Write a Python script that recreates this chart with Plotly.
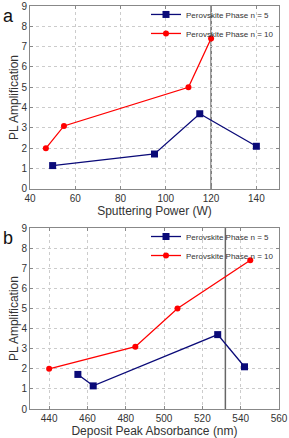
import plotly.graph_objects as go

# Panel a: Sputtering Power (W)
power_n5 = [50, 95, 115, 140]
amp_power_n5 = [1.15, 1.72, 3.7, 2.1]
power_n10 = [47, 55, 110, 120]
amp_power_n10 = [2.0, 3.1, 5.0, 7.4]
power_marker_line = 120

# Panel b: Deposit Peak Absorbance (nm)
abs_n5 = [455, 463, 528, 542]
amp_abs_n5 = [1.72, 1.15, 3.7, 2.1]
abs_n10 = [440, 485, 507, 545]
amp_abs_n10 = [2.0, 3.1, 5.0, 7.4]
abs_marker_line = 532

name_n5 = "Perovskite Phase n = 5"
name_n10 = "Perovskite Phase n = 10"

BLUE = "#0a0a78"
RED = "#ff0000"
FONT = "Liberation Sans"

fig = go.Figure()

def add_series(x, y, name, color, symbol, size, xa, ya, legend):
    fig.add_trace(go.Scatter(
        x=x, y=y, mode="lines+markers", name=name,
        line=dict(color=color, width=1.3),
        marker=dict(color=color, symbol=symbol, size=size),
        xaxis=xa, yaxis=ya, legend=legend,
    ))

add_series(power_n5, amp_power_n5, name_n5, BLUE, "square", 7, "x", "y", "legend")
add_series(power_n10, amp_power_n10, name_n10, RED, "circle", 6, "x", "y", "legend")
add_series(abs_n5, amp_abs_n5, name_n5, BLUE, "square", 7, "x2", "y2", "legend2")
add_series(abs_n10, amp_abs_n10, name_n10, RED, "circle", 6, "x2", "y2", "legend2")

axis_common = dict(
    showline=True, linecolor="#888888", linewidth=1, mirror="ticks",
    ticks="inside", ticklen=3, tickcolor="#888888",
    showgrid=True, gridcolor="#cccccc", griddash="dot", gridwidth=1,
    zeroline=False, automargin=False,
    tickfont=dict(size=10, color="#333333", family=FONT),
)

top_domain = [0.546, 1.0]
bot_domain = [0.0, 0.449]

fig.update_layout(
    width=289, height=438,
    margin=dict(l=30, r=10, t=6, b=29, autoexpand=False),
    paper_bgcolor="white", plot_bgcolor="white",
    font=dict(family=FONT, color="#333333"),
    showlegend=True,
    xaxis=dict(axis_common, range=[40, 150], dtick=20, anchor="y",
               title=dict(text="Sputtering Power (W)", font=dict(size=12), standoff=0)),
    yaxis=dict(axis_common, range=[0, 9], dtick=1, domain=top_domain, anchor="x",
               title=dict(text="PL Amplification", font=dict(size=12), standoff=0)),
    xaxis2=dict(axis_common, range=[430, 560], dtick=20, anchor="y2",
                title=dict(text="Deposit Peak Absorbance (nm)", font=dict(size=12), standoff=0)),
    yaxis2=dict(axis_common, range=[0, 9], dtick=1, domain=bot_domain, anchor="x2",
                title=dict(text="PL Amplification", font=dict(size=12), standoff=0)),
    legend=dict(x=1.0, y=1.015, xanchor="right", yanchor="top",
                bgcolor="rgba(255,255,255,0)", font=dict(size=8, color="#333333"),
                tracegroupgap=0, itemwidth=30),
    legend2=dict(x=1.0, y=0.464, xanchor="right", yanchor="top",
                 bgcolor="rgba(255,255,255,0)", font=dict(size=8, color="#333333"),
                 tracegroupgap=0, itemwidth=30),
)

fig.add_shape(type="line", xref="x", yref="y", x0=power_marker_line, x1=power_marker_line,
              y0=0, y1=9, line=dict(color="#666666", width=1.5), layer="below")
fig.add_shape(type="line", xref="x2", yref="y2", x0=abs_marker_line, x1=abs_marker_line,
              y0=0, y1=9, line=dict(color="#666666", width=1.5), layer="below")

fig.add_annotation(text="a", xref="paper", yref="paper", x=-0.115, y=0.975,
                   xanchor="left", yanchor="middle", showarrow=False,
                   font=dict(size=18, color="#111111", family=FONT))
fig.add_annotation(text="b", xref="paper", yref="paper", x=-0.115, y=0.425,
                   xanchor="left", yanchor="middle", showarrow=False,
                   font=dict(size=18, color="#111111", family=FONT))

fig.write_html(
    "out.html",
    config={"displayModeBar": False},
    post_script="document.body.style.margin='0';document.body.style.overflow='hidden';",
)
